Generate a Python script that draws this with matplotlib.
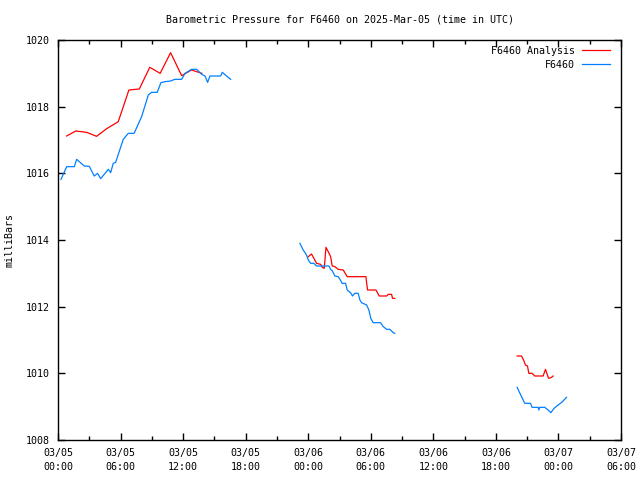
import matplotlib.pyplot as plt
import numpy as np
from matplotlib.ticker import MultipleLocator

# hours since 2025-03-05 00:00 UTC; nan marks a gap in the record
ANALYSIS_HOURS = [
    0.83, 1.7, 2.75, 3.7, 4.67, 5.78, 6.8, 7.8, 8.8, 9.8, 10.8, 11.86, 12.8, 13.8,
    np.nan,
    24.0, 24.32, 24.8, 25.19, 25.35, 25.54, 25.7, 25.92, 26.15, 26.3, 26.56, 26.88,
    27.36, 27.74, 28.96, 29.53, 29.69, 30.5, 30.81, 31.52, 31.67, 31.99, 32.09, 32.3,
    np.nan,
    44.04, 44.46, 44.68, 44.84, 45.03, 45.16, 45.47, 45.73, 46.53, 46.76, 46.92,
    47.05, 47.34, 47.49,
]
ANALYSIS_MB = [
    1017.12, 1017.27, 1017.23, 1017.11, 1017.34, 1017.55, 1018.5, 1018.53, 1019.18,
    1019.0, 1019.62, 1018.93, 1019.1, 1019.0,
    np.nan,
    1013.5, 1013.58, 1013.3, 1013.27, 1013.18, 1013.15, 1013.78, 1013.65, 1013.5,
    1013.22, 1013.2, 1013.12, 1013.1, 1012.9, 1012.9, 1012.9, 1012.5, 1012.5,
    1012.32, 1012.32, 1012.37, 1012.37, 1012.25, 1012.25,
    np.nan,
    1010.52, 1010.52, 1010.38, 1010.25, 1010.22, 1010.0, 1010.0, 1009.92, 1009.92,
    1010.12, 1009.97, 1009.85, 1009.88, 1009.92,
]

STATION_HOURS = [
    0.29, 0.83, 1.56, 1.79, 2.52, 3.0, 3.48, 3.8, 4.09, 4.83, 5.05, 5.3, 5.53, 6.26,
    6.74, 7.3, 8.02, 8.66, 8.98, 9.52, 9.87, 10.26, 10.8, 11.2, 11.86, 12.18, 12.82,
    13.3, 13.78, 14.1, 14.35, 14.57, 15.6, 15.76, 16.17, 16.56,
    np.nan,
    23.2, 23.52, 23.84, 24.0, 24.23, 24.55, 24.8, 26.0, 26.15, 26.3, 26.56, 26.87,
    27.04, 27.26, 27.58, 27.74, 28.06, 28.25, 28.47, 28.79, 28.96, 29.12, 29.6,
    29.82, 30.0, 30.23, 30.94, 31.2, 31.52, 31.83, 32.15, 32.3,
    np.nan,
    44.04, 44.23, 44.46, 44.77, 45.32, 45.47, 46.05, 46.12, 46.2, 46.69, 47.01,
    47.27, 47.58, 47.97, 48.39, 48.77,
]
STATION_MB = [
    1015.82, 1016.2, 1016.2, 1016.42, 1016.22, 1016.21, 1015.92, 1016.0, 1015.84,
    1016.12, 1016.02, 1016.3, 1016.33, 1017.02, 1017.2, 1017.2, 1017.7, 1018.35,
    1018.43, 1018.43, 1018.72, 1018.75, 1018.77, 1018.82, 1018.82, 1019.0, 1019.12,
    1019.12, 1018.97, 1018.92, 1018.73, 1018.92, 1018.92, 1019.03, 1018.92, 1018.82,
    np.nan,
    1013.9, 1013.7, 1013.55, 1013.4, 1013.3, 1013.3, 1013.22, 1013.22, 1013.12,
    1013.08, 1012.92, 1012.9, 1012.82, 1012.7, 1012.7, 1012.5, 1012.42, 1012.32,
    1012.4, 1012.4, 1012.2, 1012.12, 1012.05, 1011.9, 1011.65, 1011.52, 1011.52,
    1011.4, 1011.32, 1011.32, 1011.22, 1011.2,
    np.nan,
    1009.58, 1009.45, 1009.3, 1009.1, 1009.1, 1008.98, 1008.98, 1008.9, 1008.98,
    1008.98, 1008.9, 1008.82, 1008.95, 1009.05, 1009.15, 1009.28,
]

X_TICK_LABELS = [
    "03/05\n00:00", "03/05\n06:00", "03/05\n12:00", "03/05\n18:00",
    "03/06\n00:00", "03/06\n06:00", "03/06\n12:00", "03/06\n18:00",
    "03/07\n00:00", "03/07\n06:00",
]

plt.rcParams["font.family"] = "DejaVu Sans Mono"
plt.rcParams["font.size"] = 7.2

fig = plt.figure(figsize=(6.4, 4.8), dpi=100)
ax = fig.add_axes([58 / 640, 1 - 440 / 480, 563 / 640, 400 / 480])

ax.plot(ANALYSIS_HOURS, ANALYSIS_MB, color="#ff0000", lw=0.9, label="F6460 Analysis")
ax.plot(STATION_HOURS, STATION_MB, color="#0080ff", lw=0.9, label="F6460")

ax.set_xlim(0, 54)
ax.set_ylim(1008, 1020)
ax.set_xticks(np.arange(0, 55, 6))
ax.set_xticklabels(X_TICK_LABELS, linespacing=1.5)
ax.xaxis.set_minor_locator(MultipleLocator(3))
ax.set_yticks(np.arange(1008, 1021, 2))
ax.tick_params(which="both", direction="in", top=True, right=True, width=1, color="black")
ax.tick_params(which="major", length=5)
ax.tick_params(which="minor", length=3)
ax.tick_params(axis="x", pad=6)
ax.tick_params(axis="y", pad=6)
for spine in ax.spines.values():
    spine.set_linewidth(1)

fig.text(10 / 640, 0.5, "milliBars", rotation=90, ha="center", va="center")
fig.text(0.5 * (58 + 621) / 640, 1 - 19 / 480,
         "Barometric Pressure for F6460 on 2025-Mar-05 (time in UTC)",
         ha="center", va="center")

leg = ax.legend(
    loc="upper right",
    bbox_to_anchor=(1 - 7 / 563, 1 - 2 / 400),
    frameon=False,
    markerfirst=False,
    handlelength=2.8,
    handletextpad=0.7,
    labelspacing=0.4,
    borderaxespad=0,
    borderpad=0.4,
)
for text in leg.get_texts():
    text.set_ha("right")

fig.savefig("out.png", dpi=100)
